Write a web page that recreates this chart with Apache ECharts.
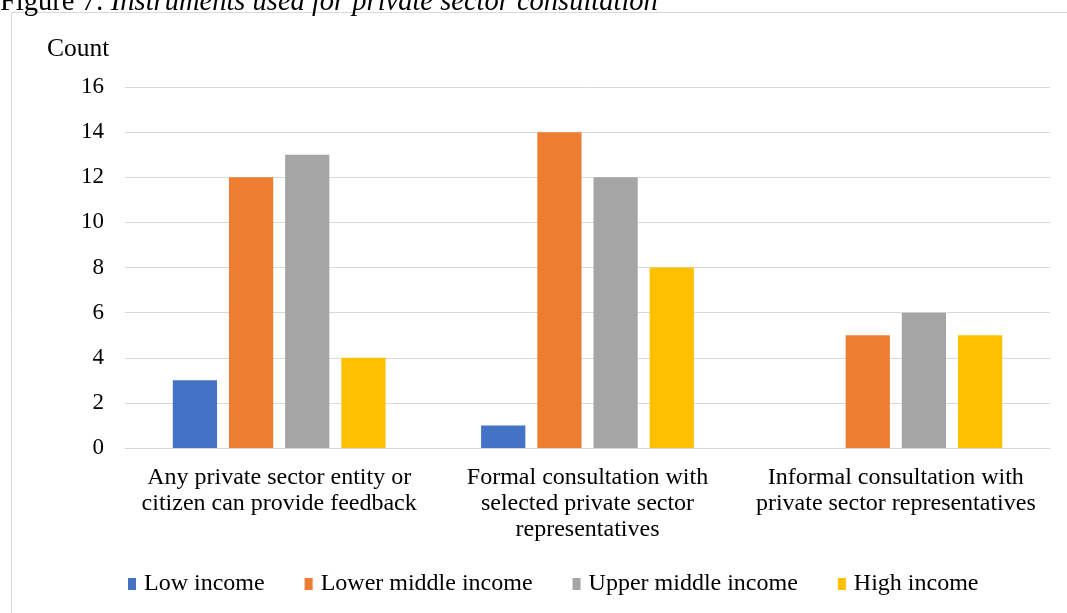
<!DOCTYPE html>
<html>
<head>
<meta charset="utf-8">
<script src="https://cdn.jsdelivr.net/npm/echarts@6/dist/echarts.min.js"></script>
<style>
  html, body { margin: 0; padding: 0; background: #fff; }
  #chart { width: 1067px; height: 613px; }
</style>
</head>
<body>
<div id="chart"></div>
<script>
// Consultation instruments, counted by country income group
const categories = [
  'Any private sector entity or\ncitizen can provide feedback',
  'Formal consultation with\nselected private sector\nrepresentatives',
  'Informal consultation with\nprivate sector representatives'
];
const seriesNames = ['Low income', 'Lower middle income', 'Upper middle income', 'High income'];
const lowIncome = [3, 1, 0];
const lowerMiddleIncome = [12, 14, 5];
const upperMiddleIncome = [13, 12, 6];
const highIncome = [4, 8, 5];
const colors = ['#4472C4', '#ED7D31', '#A5A5A5', '#FFC000'];

const serif = '"Liberation Serif", "Times New Roman", serif';
const values = [lowIncome, lowerMiddleIncome, upperMiddleIncome, highIncome];

const chart = echarts.init(document.getElementById('chart'));
chart.setOption({
  animation: false,
  backgroundColor: '#ffffff',
  textStyle: { fontFamily: serif, color: '#000' },
  graphic: [
    {
      type: 'rect',
      shape: { x: 11.5, y: 12.5, width: 1100, height: 700 },
      style: { fill: 'none', stroke: '#d9d9d9', lineWidth: 1 },
      silent: true
    },
    {
      type: 'text',
      left: 0,
      top: -12,
      style: {
        text: '{n|Figure 7: }{i|Instruments used for private sector consultation}',
        rich: {
          n: { fontFamily: serif, fontSize: 28.5, fill: '#000' },
          i: { fontFamily: serif, fontSize: 28.5, fontStyle: 'italic', fill: '#000' }
        }
      },
      silent: true
    },
    {
      type: 'text',
      left: 47,
      top: 36,
      style: { text: 'Count', fontFamily: serif, fontSize: 25.5, fill: '#000' },
      silent: true
    }
  ],
  legend: {
    left: 123,
    top: 567,
    itemWidth: 8,
    itemHeight: 12,
    itemGap: 40,
    icon: 'rect',
    data: seriesNames,
    textStyle: { fontFamily: serif, fontSize: 24, color: '#000', padding: [0, 0, 0, 3] }
  },
  grid: { left: 125, right: 17, top: 87, bottom: 165 },
  xAxis: {
    type: 'category',
    data: categories,
    axisLine: { show: true, lineStyle: { color: '#d9d9d9', width: 1 } },
    axisTick: { show: false },
    axisLabel: {
      interval: 0,
      margin: 17,
      fontFamily: serif,
      fontSize: 24,
      lineHeight: 26,
      color: '#000'
    }
  },
  yAxis: {
    type: 'value',
    min: 0,
    max: 16,
    interval: 2,
    axisLine: { show: false },
    axisTick: { show: false },
    splitLine: { lineStyle: { color: '#d9d9d9', width: 1 } },
    axisLabel: { margin: 21, fontFamily: serif, fontSize: 23, color: '#000' }
  },
  series: seriesNames.map((name, i) => ({
    name: name,
    type: 'bar',
    data: values[i],
    barGap: '27%',
    barCategoryGap: '31%',
    itemStyle: { color: colors[i] }
  }))
});
</script>
</body>
</html>
